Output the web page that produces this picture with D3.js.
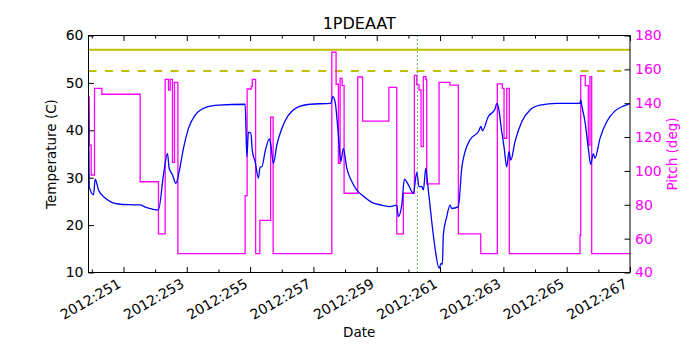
<!DOCTYPE html>
<html>
<head>
<meta charset="utf-8">
<script src="https://cdn.jsdelivr.net/npm/d3@7"></script>
<style>
  body { margin: 0; background: #fff; }
  svg text { font-family: "DejaVu Sans", sans-serif; }
</style>
</head>
<body>
<div id="graph-body"></div>
<script>
// temperature trace (day of year 2012, deg C)
var tempDay = [249.897, 249.917, 250.053, 250.107, 250.211, 250.422, 250.634, 250.842, 251.158, 251.527,
  251.685, 251.897, 252.105, 252.263, 252.389, 252.443, 252.547, 252.655, 252.759, 252.895,
  253.053, 253.264, 253.580, 254.000, 254.843, 254.897, 254.947, 255.023, 255.073, 255.159,
  255.263, 255.317, 255.370, 255.474, 255.610, 255.654, 255.736, 255.844, 256.002, 256.210,
  256.475, 256.895, 257.549, 257.612, 257.685, 257.789, 257.865, 257.947, 258.054, 258.212,
  258.370, 258.528, 258.844, 259.159, 259.421, 259.633, 259.683, 259.791, 259.873, 259.999,
  260.157, 260.264, 260.337, 260.422, 260.473, 260.549, 260.612, 260.738, 260.842, 260.969,
  261.032, 261.073, 261.104, 261.212, 261.316, 261.370, 261.578, 261.685, 261.789, 261.947,
  262.209, 262.295, 262.336, 262.525, 262.737, 262.790, 262.841, 262.948, 263.021, 263.106,
  263.179, 263.233, 263.368, 263.580, 263.842, 264.158, 264.685, 265.421, 265.443, 265.474,
  265.579, 265.683, 265.759, 265.841, 265.895, 266.052, 266.264, 266.526, 266.788, 266.977];
var tempDeg = [44.7, 28.1, 26.4, 29.7, 27.4, 25.7, 24.8, 24.45, 24.3, 24.25,
  23.8, 23.4, 23.2, 30.6, 35.15, 32.0, 30.6, 28.8, 31.3, 36.2,
  40.4, 43.2, 44.8, 45.3, 45.5, 34.4, 39.6, 39.4, 35.5, 33.4,
  29.9, 32.3, 32.3, 35.5, 38.2, 36.9, 33.0, 36.9, 40.4, 43.2,
  44.8, 45.5, 45.7, 47.1, 46.0, 39.0, 33.4, 36.2, 32.0, 29.2,
  27.4, 26.4, 24.8, 24.2, 23.9, 24.2, 21.8, 24.2, 29.7, 28.5,
  26.7, 31.1, 28.1, 28.1, 27.4, 32.0, 28.5, 20.7, 15.1, 10.9,
  11.9, 11.7, 17.9, 21.8, 24.2, 23.5, 23.9, 32.0, 35.5, 38.0,
  39.7, 40.8, 39.9, 42.9, 44.5, 45.7, 45.0, 39.7, 36.5, 32.3,
  35.5, 33.7, 37.6, 41.8, 44.3, 45.3, 45.7, 45.7, 46.4, 45.3,
  41.8, 36.2, 32.8, 35.1, 34.1, 38.3, 41.8, 44.1, 45.1, 45.5];

// pitch (deg), held until next change
var pitchDay = [249.895, 249.920, 249.980, 250.085, 250.318, 251.527, 252.105, 252.317, 252.421, 252.475,
  252.547, 252.611, 252.718, 254.843, 254.906, 255.035, 255.070, 255.174, 255.307, 255.648,
  255.727, 257.581, 257.716, 257.789, 257.843, 257.906, 257.969, 258.401, 258.553, 259.383,
  259.633, 259.841, 260.189, 260.264, 260.337, 260.400, 260.473, 260.549, 260.580, 260.969,
  261.316, 261.578, 262.285, 262.809, 262.967, 263.021, 263.106, 263.188, 265.421, 265.443,
  265.588, 265.683, 265.736, 265.790, 267.000];
var pitchDeg = [143.8, 115.3, 97.6, 148.8, 145.3, 93.6, 62.8, 154.1, 147.8, 154.1,
  105.1, 152.3, 51.2, 85.4, 148.4, 150.0, 154.1, 51.2, 70.8, 131.7,
  51.2, 170.1, 151.2, 104.5, 154.7, 150.5, 86.8, 155.5, 129.4, 149.3,
  62.8, 86.8, 156.5, 150.8, 147.8, 114.3, 155.7, 154.0, 92.3, 152.3,
  150.7, 62.8, 51.2, 151.4, 148.8, 119.3, 148.8, 51.2, 62.0, 156.3,
  150.4, 115.3, 155.7, 51.2, 51.2];

var limits = [57.0, 52.5];       // planning limit, caution limit
var markerDay = 260.284;         // dotted marker
var majorDays = [251, 253, 255, 257, 259, 261, 263, 265, 267];
var minorDays = [250, 252, 254, 256, 258, 260, 262, 264, 266];
var tempTicks = [10, 20, 30, 40, 50, 60];
var pitchTicks = [40, 60, 80, 100, 120, 140, 160, 180];

var margin = {top: 35.5, right: 70, bottom: 77.5, left: 88.5},
    width = 700 - margin.left - margin.right,
    height = 350 - margin.top - margin.bottom;

var xScale = d3.scaleLinear().domain([249.895, 267.0]).range([0, width]);
var yScale = d3.scaleLinear().domain([10, 60]).range([height, 0]);
var y2Scale = d3.scaleLinear().domain([40, 180]).range([height, 0]);

var svg = d3.select("#graph-body").append("svg")
    .attr("width", 700)
    .attr("height", 350)
  .append("g")
    .attr("transform", "translate(" + margin.left + "," + margin.top + ")");

svg.append("defs").append("clipPath").attr("id", "plot-clip")
  .append("rect").attr("width", width).attr("height", height);

var lines = svg.append("g").attr("clip-path", "url(#plot-clip)");

// limit lines
lines.append("line")
    .attr("x1", 0).attr("x2", width)
    .attr("y1", yScale(limits[0])).attr("y2", yScale(limits[0]))
    .attr("stroke", "#bfbf00").attr("stroke-width", 2);
lines.append("line")
    .attr("x1", 0).attr("x2", width)
    .attr("y1", yScale(limits[1])).attr("y2", yScale(limits[1]))
    .attr("stroke", "#bfbf00").attr("stroke-width", 2)
    .attr("stroke-dasharray", "8,8.4");

var pitchLine = d3.line()
    .x(function(d) { return xScale(d[0]); })
    .y(function(d) { return y2Scale(d[1]); })
    .curve(d3.curveStepAfter);
lines.append("path")
    .attr("d", pitchLine(d3.zip(pitchDay, pitchDeg)))
    .attr("fill", "none").attr("stroke", "#ff00ff").attr("stroke-width", 1.3);

var tempLine = d3.line()
    .x(function(d) { return xScale(d[0]); })
    .y(function(d) { return yScale(d[1]); })
    .curve(d3.curveMonotoneX);
lines.append("path")
    .attr("d", tempLine(d3.zip(tempDay, tempDeg)))
    .attr("fill", "none").attr("stroke", "#0000ff").attr("stroke-width", 1.3);

lines.append("line")
    .attr("x1", xScale(markerDay)).attr("x2", xScale(markerDay))
    .attr("y1", 0).attr("y2", height)
    .attr("stroke", "#008000").attr("stroke-width", 1.2)
    .attr("stroke-dasharray", "1,3");

// axes, ticks pointing inward
var fmt = function(d) { return "2012:" + d; };
var gX = svg.append("g").attr("transform", "translate(0," + height + ")")
    .call(d3.axisBottom(xScale).tickValues(majorDays).tickSize(-5.5).tickFormat(fmt));
svg.append("g").attr("transform", "translate(0," + height + ")")
    .call(d3.axisBottom(xScale).tickValues(minorDays).tickSize(-3).tickFormat(""));
svg.append("g")
    .call(d3.axisTop(xScale).tickValues(majorDays).tickSize(-5.5).tickFormat(""));
svg.append("g")
    .call(d3.axisTop(xScale).tickValues(minorDays).tickSize(-3).tickFormat(""));

gX.selectAll(".tick text")
    .attr("text-anchor", "end")
    .attr("transform", "translate(-2,14) rotate(-30)")
    .attr("dy", 0)
    .attr("y", 0)
    .attr("fill", "#000");

var gY = svg.append("g")
    .call(d3.axisLeft(yScale).tickValues(tempTicks).tickSize(-5.5).tickPadding(5));
gY.selectAll(".tick text").attr("fill", "#000");

var gY2 = svg.append("g").attr("transform", "translate(" + width + ",0)")
    .call(d3.axisRight(y2Scale).tickValues(pitchTicks).tickSize(-5.5).tickPadding(5));
gY2.selectAll(".tick text").attr("fill", "#ff00ff");

svg.selectAll(".domain").remove();
svg.selectAll(".tick line").attr("stroke", "#000");
svg.selectAll(".tick text")
    .style("font-family", "'DejaVu Sans', sans-serif")
    .style("font-size", "14px");

svg.append("rect")
    .attr("width", width).attr("height", height)
    .attr("fill", "none").attr("stroke", "#000").attr("stroke-width", 1);

// titles
svg.append("text")
    .attr("x", width / 2).attr("y", -7)
    .attr("text-anchor", "middle")
    .style("font-size", "16px")
    .text("1PDEAAT");

svg.append("text")
    .attr("x", width / 2).attr("y", height + 64)
    .attr("text-anchor", "middle")
    .style("font-size", "13.5px")
    .text("Date");

svg.append("text")
    .attr("transform", "translate(-33," + (height / 2) + ") rotate(-90)")
    .attr("text-anchor", "middle")
    .style("font-size", "13.5px")
    .text("Temperature (C)");

svg.append("text")
    .attr("transform", "translate(" + (width + 47) + "," + (height / 2) + ") rotate(-90)")
    .attr("text-anchor", "middle")
    .attr("fill", "#ff00ff")
    .style("font-size", "13.5px")
    .text("Pitch (deg)");
</script>
</body>
</html>
